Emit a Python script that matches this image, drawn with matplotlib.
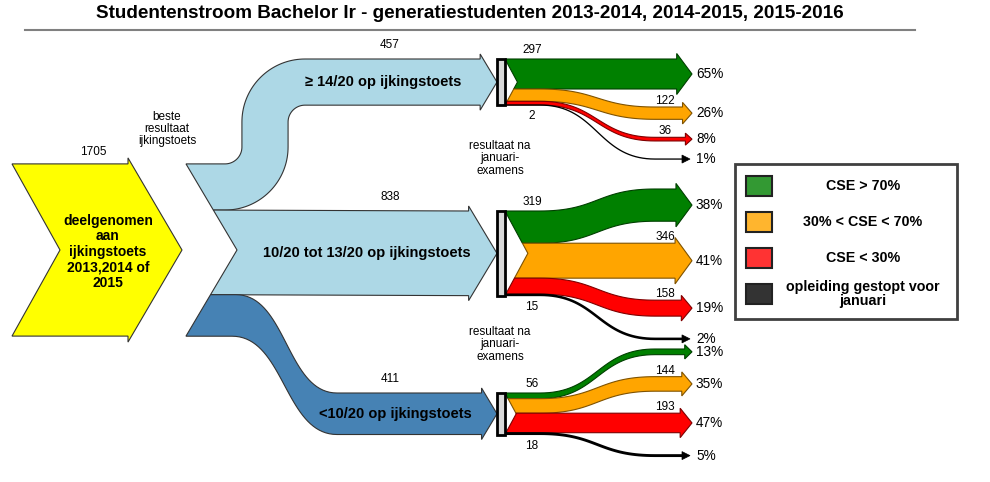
import numpy as np
import matplotlib
matplotlib.use("Agg")
import matplotlib.pyplot as plt
from matplotlib.patches import Rectangle, Polygon

plt.rcParams['font.family'] = ['Liberation Sans', 'DejaVu Sans']

# data
title = "Studentenstroom Bachelor Ir - generatiestudenten 2013-2014, 2014-2015, 2015-2016"
total = 1705
total_label = "deelgenomen\naan\nijkingstoets\n2013,2014 of\n2015"
groups = ["\u2265 14/20 op ijkingstoets", "10/20 tot 13/20 op ijkingstoets", "<10/20 op ijkingstoets"]
group_counts = [457, 838, 411]
outcomes = ["CSE > 70%", "30% < CSE < 70%", "CSE < 30%", "opleiding gestopt voor\njanuari"]
outcome_counts = [[297, 122, 36, 2], [319, 346, 158, 15], [56, 144, 193, 18]]
outcome_pcts = [["65%", "26%", "8%", "1%"], ["38%", "41%", "19%", "2%"], ["13%", "35%", "47%", "5%"]]

# styling / layout
group_colors = ['#ADD8E6', '#ADD8E6', '#4682B4']
outcome_colors = ['#008000', '#FFA500', '#FF0000', '#000000']
outcome_edges = ['#003F00', '#7F5200', '#7F0000', '#000000']
legend_colors = ['#339933', '#FFB52E', '#FF3333', '#333333']
SCALE = 0.101          # pixels per student
Y_MID = 250
group_top = [59, 211, 393]
group_text_x = [383, 367, 395]
anchor = [0, 1, 2]
gaps = [18, 22, 22]
K = 0.5523


def bez(p0, p1, p2, p3, n=40):
    t = np.linspace(0, 1, n)[:, None]
    p0, p1, p2, p3 = map(np.array, (p0, p1, p2, p3))
    return list(map(tuple, (1 - t) ** 3 * p0 + 3 * (1 - t) ** 2 * t * p1 + 3 * (1 - t) * t ** 2 * p2 + t ** 3 * p3))


def edge_bez(y0, y1, xa, xb, x1):
    xm = (xa + xb) / 2
    return bez((xa, y0), (xm, y0), (xm, y1), (xb, y1)) + [(x1, y1)]


def edge_arc(y0, y1, xv, R, w, side, x1):
    # two quarter turns joined by a vertical run (concentric with the band's centre line)
    s = 1 if y1 > y0 else -1
    t1 = -s
    ra = R - side * t1 * w / 2
    rb = R + side * t1 * w / 2
    xe = xv - side * t1 * w / 2
    pts = bez((xe - ra, y0), (xe - ra + K * ra, y0), (xe, y0 + s * ra - s * K * ra), (xe, y0 + s * ra))
    pts += bez((xe, y1 - s * rb), (xe, y1 - s * rb + s * K * rb), (xe + rb - K * rb, y1), (xe + rb, y1))
    return pts + [(x1, y1)]


def band(ax, left_top, left_bot, notch, top_pts, bot_pts, w_end, hb, tip, ov, fc, ec, lw=0.8):
    y1t = top_pts[-1][1]
    y1b = bot_pts[-1][1]
    head = [(hb, y1t), (hb, y1t - ov), (tip, (y1t + y1b) / 2), (hb, y1b + ov), (hb, y1b)]
    verts = [left_top] + top_pts + head + bot_pts[::-1] + [left_bot] + notch
    ax.add_patch(Polygon(verts, closed=True, facecolor=fc, edgecolor=ec, lw=lw, zorder=2))


def chevron_x(y, x0, depth, mid, half):
    return x0 + depth * (1 - abs(y - mid) / half)


fig = plt.figure(figsize=(9.9, 4.82), dpi=100)
ax = fig.add_axes([0, 0, 1, 1])
ax.set_xlim(0, 990)
ax.set_ylim(482, 0)
ax.axis('off')

ax.text(470, 14, title, ha='center', va='center', fontsize=13.6, fontweight='bold')
ax.plot([25, 915], [30, 30], color='#808080', lw=1.5)

# starting chevron
H = total * SCALE
yt, yb = Y_MID - H / 2, Y_MID + H / 2
ax.add_patch(Polygon([(12, yt), (128, yt), (128, yt - 6), (182, Y_MID), (128, yb + 6), (128, yb),
                      (12, yb), (60, Y_MID)], closed=True, facecolor='#FFFF00', edgecolor='#333333',
                     lw=0.8, zorder=2))
ax.text(108, Y_MID + 2, total_label, ha='center', va='center', fontsize=10, fontweight='bold',
        linespacing=1.15, zorder=3)
ax.text(93, yt - 12, str(total), ha='center', va='center', fontsize=8.5)
ax.text(167, 129, "beste\nresultaat\nijkingstoets", ha='center', va='center', fontsize=8.5,
        linespacing=1.05)

# first split
y = yt
for g, cnt in enumerate(group_counts):
    w = cnt * SCALE
    lt = (chevron_x(y, 186, 51, Y_MID, H / 2), y)
    lb = (chevron_x(y + w, 186, 51, Y_MID, H / 2), y + w)
    notch = [(237, Y_MID)] if y < Y_MID < y + w else []
    ov = 5
    hl = 0.3 * (w + 2 * ov)
    hb = 497 - hl
    t1 = group_top[g]
    if g == 0:
        top_pts = edge_arc(y, t1, 265, 40, w, 1, hb)
        bot_pts = edge_arc(y + w, t1 + w, 265, 40, w, -1, hb)
    elif g == 2:
        top_pts = edge_bez(y, t1, 236, 337, hb)
        bot_pts = edge_bez(y + w, t1 + w, 232, 337, hb)
    else:
        top_pts = [(hb, t1)]
        bot_pts = [(hb, t1 + w)]
    band(ax, lt, lb, notch, top_pts, bot_pts, w, hb, 497, ov, group_colors[g], '#333333')
    ax.text(390, t1 - 14, str(cnt), ha='center', va='center', fontsize=8.5)
    ax.text(group_text_x[g], t1 + w / 2, groups[g], ha='center', va='center',
            fontsize=10.5, fontweight='bold', zorder=3)
    y += w

# "resultaat na januari-examens" between the rows
for g in range(2):
    yl = (group_top[g] + group_counts[g] * SCALE + group_top[g + 1]) / 2
    ax.text(500, yl, "resultaat na\njanuari-\nexamens", ha='center', va='center', fontsize=8.5,
            linespacing=1.05)

# second split
for g, counts in enumerate(outcome_counts):
    top = group_top[g]
    Hg = sum(counts) * SCALE
    mid = top + Hg / 2
    depth = 0.27 * Hg
    widths = [c * SCALE for c in counts]
    src = [top + sum(widths[:i]) for i in range(len(widths))]
    # destinations: stacked with a gap, keeping one band straight
    dst = [0.0] * len(widths)
    a = anchor[g]
    dst[a] = src[a]
    for i in range(a + 1, len(widths)):
        dst[i] = dst[i - 1] + widths[i - 1] + gaps[g]
    for i in range(a - 1, -1, -1):
        dst[i] = dst[i + 1] - gaps[g] - widths[i]

    for i, w in enumerate(widths):
        last = i == len(widths) - 1
        if last:
            yc0, yc1 = src[i] + w / 2, dst[i] + w / 2
            pts = np.array([(505, yc0)] + edge_bez(yc0, yc1, 540, 655, 684))
            ax.plot(pts[:, 0], pts[:, 1], color='black', lw=0.8 + 0.7 * w, zorder=2,
                    solid_capstyle='butt')
            ax.add_patch(Polygon([(682, yc1 - 4), (690, yc1), (682, yc1 + 4)], closed=True,
                                 facecolor='black', edgecolor='black', lw=0.5, zorder=2))
        else:
            lt = (chevron_x(src[i], 505, depth, mid, Hg / 2), src[i])
            lb = (chevron_x(src[i] + w, 505, depth, mid, Hg / 2), src[i] + w)
            notch = [(505 + depth, mid)] if src[i] < mid < src[i] + w else []
            ov = 4 + 0.05 * w
            hl = 0.3 * (w + 2 * ov) + 3
            hb = 692 - hl
            band(ax, lt, lb, notch, edge_bez(src[i], dst[i], 540, 655, hb),
                 edge_bez(src[i] + w, dst[i] + w, 540, 655, hb), w, hb, 692, ov,
                 outcome_colors[i], outcome_edges[i])
        # labels
        if i == 0:
            ax.text(532, src[i] - 9, str(counts[i]), ha='center', va='center', fontsize=8.5)
        elif last:
            ax.text(532, src[i] + w + 11, str(counts[i]), ha='center', va='center', fontsize=8.5)
        else:
            ax.text(665, dst[i] - 6, str(counts[i]), ha='center', va='center', fontsize=8.5)
        ax.text(696, dst[i] + w / 2, outcome_pcts[g][i], ha='left', va='center', fontsize=9.8)

    ax.add_patch(Rectangle((497, top), 8, Hg, facecolor='#D9D9D9', edgecolor='black', lw=2, zorder=4))

# legend
ax.add_patch(Rectangle((735, 164), 222, 155, facecolor='white', edgecolor='#404040', lw=2, zorder=1))
for k, lab in enumerate(outcomes):
    yc = 186 + k * 36
    ax.add_patch(Rectangle((746, yc - 10), 26, 20, facecolor=legend_colors[k], edgecolor='#222222',
                           lw=1.5, zorder=2))
    ax.text(863, yc, lab, ha='center', va='center', fontsize=10.3, fontweight='bold',
            linespacing=1.0, zorder=3)

fig.savefig('out.png', dpi=100)
